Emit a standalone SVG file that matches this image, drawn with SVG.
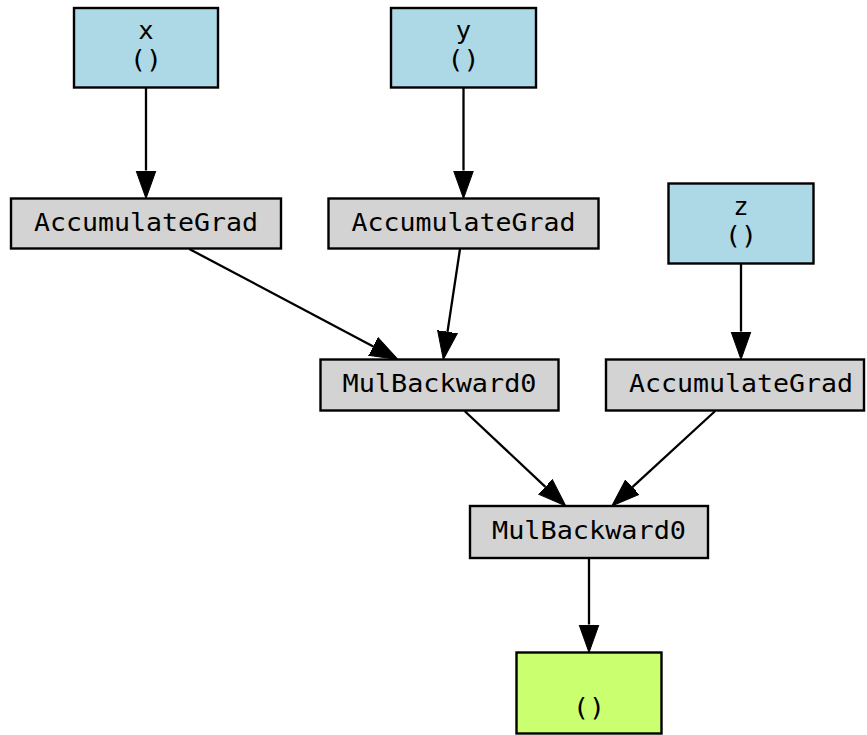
<svg xmlns="http://www.w3.org/2000/svg" width="867" height="735" viewBox="0 0 867 735">
<defs>
<style>
.node rect{stroke:#000;stroke-width:2.4}
.var{fill:#ADD8E6}
.fn{fill:#D3D3D3}
.out{fill:#CAFF70}
text{font-family:"DejaVu Sans Mono","Liberation Mono",monospace;font-size:25.5px;fill:#000;text-anchor:middle}
.edges line{stroke:#000;stroke-width:2.3}
</style>
<marker id="ah" markerUnits="userSpaceOnUse" markerWidth="30" markerHeight="22" viewBox="0 -11 30 22" refX="0" refY="0" orient="auto">
<path d="M0,-10 L28,0 L0,10 z" fill="#000" stroke="#000" stroke-width="1"/>
</marker>
</defs>
<rect width="867" height="735" fill="#fff"/>
<g class="edges">
<line x1="146" y1="87.5" x2="146" y2="170.5" marker-end="url(#ah)"/>
<line x1="463.5" y1="88" x2="463.5" y2="170.5" marker-end="url(#ah)"/>
<line x1="741" y1="264" x2="741" y2="331.5" marker-end="url(#ah)"/>
<line x1="189.3" y1="249" x2="373.3" y2="346.4" marker-end="url(#ah)"/>
<line x1="460" y1="249" x2="447.5" y2="331.8" marker-end="url(#ah)"/>
<line x1="464.6" y1="411" x2="545.4" y2="486.8" marker-end="url(#ah)"/>
<line x1="715.2" y1="411" x2="632.4" y2="487.1" marker-end="url(#ah)"/>
<line x1="589" y1="558" x2="589" y2="624.5" marker-end="url(#ah)"/>
</g>
<g id="x" class="node">
<rect class="var" x="74" y="8" width="144" height="79.5"/>
<text x="146" y="39">x</text>
<text x="146" y="67.5" textLength="32" lengthAdjust="spacingAndGlyphs">()</text>
</g>
<g id="y" class="node">
<rect class="var" x="391" y="8" width="145" height="79.5"/>
<text x="463.5" y="39">y</text>
<text x="463.5" y="67.5" textLength="32" lengthAdjust="spacingAndGlyphs">()</text>
</g>
<g id="z" class="node">
<rect class="var" x="668.5" y="183.5" width="145" height="80"/>
<text x="741" y="215">z</text>
<text x="741" y="243.5" textLength="32" lengthAdjust="spacingAndGlyphs">()</text>
</g>
<g id="acc1" class="node">
<rect class="fn" x="11" y="198.5" width="270" height="50"/>
<text x="146" y="231" textLength="224" lengthAdjust="spacingAndGlyphs">AccumulateGrad</text>
</g>
<g id="acc2" class="node">
<rect class="fn" x="328.5" y="198.5" width="270" height="50"/>
<text x="463.5" y="231" textLength="224" lengthAdjust="spacingAndGlyphs">AccumulateGrad</text>
</g>
<g id="acc3" class="node">
<rect class="fn" x="606" y="359.5" width="258" height="51"/>
<text x="741" y="392" textLength="224" lengthAdjust="spacingAndGlyphs">AccumulateGrad</text>
</g>
<g id="mul1" class="node">
<rect class="fn" x="320.5" y="359.5" width="238" height="51"/>
<text x="439.5" y="392" textLength="194" lengthAdjust="spacingAndGlyphs">MulBackward0</text>
</g>
<g id="mul2" class="node">
<rect class="fn" x="470" y="506" width="238" height="52"/>
<text x="589" y="539" textLength="194" lengthAdjust="spacingAndGlyphs">MulBackward0</text>
</g>
<g id="out" class="node">
<rect class="out" x="516.5" y="652.5" width="145" height="81"/>
<text x="589" y="715.5" textLength="32" lengthAdjust="spacingAndGlyphs">()</text>
</g>
</svg>
